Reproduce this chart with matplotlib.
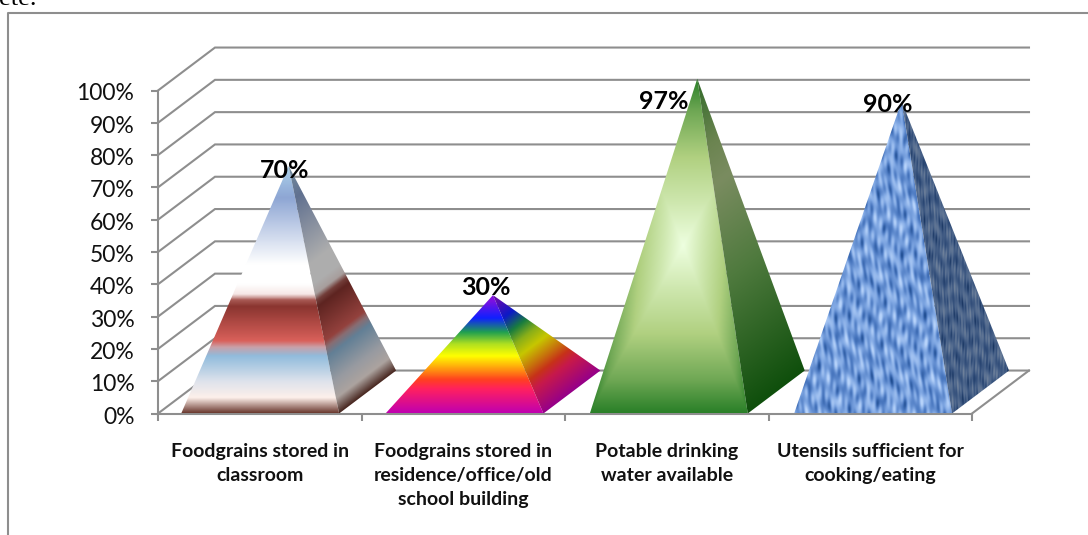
import numpy as np
import matplotlib
matplotlib.use("Agg")
import matplotlib.pyplot as plt
from matplotlib.colors import LinearSegmentedColormap
from matplotlib.lines import Line2D
from matplotlib.patches import Polygon
from matplotlib.transforms import Affine2D

categories = ["Foodgrains stored in\nclassroom",
              "Foodgrains stored in\nresidence/office/old\nschool building",
              "Potable drinking\nwater available",
              "Utensils sufficient for\ncooking/eating"]
values = [70, 30, 97, 90]
value_labels = ["70%", "30%", "97%", "90%"]
y_ticks = list(range(0, 101, 10))

W, H = 1088, 535
GRAY = "#8e8e8e"
DX, DY = 0.28, 13.3       # depth of the 3-D box in data units
HW = 0.388                # half base width of a pyramid
SLOPE = DY / DX

fig = plt.figure(figsize=(W / 100, H / 100), dpi=100, facecolor="white")
ax = fig.add_axes([158 / W, (H - 413.5) / H, 814 / W, 323 / H])
ax.set_xlim(0, 4)
ax.set_ylim(0, 100)
ax.set_facecolor("none")

# walls and gridlines
for y in y_ticks:
    ax.plot([0, DX, 4 + DX], [y, y + DY, y + DY], color=GRAY, lw=1.5,
            clip_on=False, zorder=1, solid_joinstyle="miter")
ax.plot([4, 4 + DX], [0, DY], color=GRAY, lw=1.5, clip_on=False, zorder=1)

for s in ("top", "right"):
    ax.spines[s].set_visible(False)
for s in ("left", "bottom"):
    ax.spines[s].set_color(GRAY)
    ax.spines[s].set_linewidth(1.5)

ax.set_yticks(y_ticks)
ax.set_yticklabels([f"{v}%" for v in y_ticks], fontfamily="Lato", fontsize=16.5, color="#111111")
ax.tick_params(axis="y", length=5, width=1.5, color=GRAY, pad=12)
for lab in ax.get_yticklabels():
    lab.set_transform(lab.get_transform() + Affine2D().translate(0, -1.5))
ax.set_xticks(range(5))
ax.set_xticklabels([])
ax.tick_params(axis="x", which="major", length=5, width=1.5, color=GRAY)
ax.set_xticks(np.arange(4) + 0.5, minor=True)
ax.set_xticklabels(categories, minor=True, fontfamily="Lato", fontweight="bold",
                   fontsize=14, linespacing=1.5, color="#111111")
ax.tick_params(axis="x", which="minor", length=0, pad=21)


def stops(seq):
    return LinearSegmentedColormap.from_list("s", [(t, c) for t, c in seq], N=512)


cm_a = stops([(0, "#6b3a30"), (.06, "#fdf0ea"), (.125, "#dfe3ec"), (.23, "#90bbdc"),
              (.265, "#c9a0a8"), (.29, "#d9605a"), (.43, "#8a3530"), (.455, "#a85a54"),
              (.48, "#f6e8e6"), (.52, "#ffffff"), (.6, "#ffffff"), (.87, "#8ea6d4"),
              (.98, "#a8cce8"), (1, "#a8cce8")])
cm_b = stops([(0, "#c000b0"), (.2, "#ff2060"), (.28, "#ff4020"), (.36, "#ff9010"),
              (.48, "#ffff00"), (.58, "#b0e020"), (.68, "#20a050"), (.8, "#1020ff"),
              (.95, "#8010e0"), (1, "#8010e0")])
cm_c = stops([(0, "#eeffe0"), (.25, "#cfe8b0"), (.53, "#b0d080"), (.8, "#70a855"), (1, "#2a8028")])
cm_c_side = stops([(0, "#0f4f0c"), (.4, "#4f7a3e"), (.68, "#7a8c60"), (.8, "#6b8450"), (1, "#2f6a28")])
cm_d = stops([(0, "#1d4b8f"), (.3, "#4a78c0"), (.62, "#7ea6e2"), (1, "#b8d4fb")])


def draw_face(poly, colours):
    xs = [p[0] for p in poly]
    ys = [p[1] for p in poly]
    ext = (min(xs), max(xs), min(ys), max(ys))
    X, Y = np.meshgrid(np.linspace(ext[0], ext[1], 500), np.linspace(ext[2], ext[3], 500))
    rgb = colours(X, Y)
    im = ax.imshow(rgb, extent=ext, origin="lower", aspect="auto", zorder=3,
                   interpolation="bilinear")
    im.set_clip_path(Polygon(poly, closed=True, transform=ax.transData))
    im.set_clip_box(fig.bbox)


def texture(X, Y, fine):
    px, py = X * 203.5, Y * 3.23
    fx = 0.95 if not fine else 2.1
    n = (np.sin(fx * px + 1.6 * np.sin(0.07 * py + 0.03 * px))
         * (0.7 + 0.5 * np.sin(0.27 * py + 0.41 * px))
         + 0.7 * np.sin(0.37 * fx * px + 0.13 * py + 1.2 * np.sin(0.043 * py - 0.13 * px))
         + 0.55 * np.sin(0.33 * py + 0.07 * px + 1.1 * np.sin(0.29 * px))
         + 0.35 * np.sin(0.12 * py - 0.23 * px))
    return np.clip(0.55 + n / 5.0, 0, 1)


for i, v in enumerate(values):
    c = 0.502 + 1.004 * i
    xl, xr = c - HW, c + HW
    ax_, ay_ = c + DX / 2, v + DY / 2
    front = [(xl, 0), (xr, 0), (ax_, ay_)]
    side = [(xr, 0), (xr + DX, DY), (ax_, ay_)]
    tf = lambda X, Y: np.clip(Y / ay_, 0, 1)
    ts = lambda X, Y: np.clip((Y - SLOPE * (X - xr)) / (v + SLOPE * HW), 0, 1)

    if i in (0, 1):
        cm = cm_a if i == 0 else cm_b
        k = 0.68 if i == 0 else 0.78
        draw_face(front, lambda X, Y: cm(tf(X, Y))[..., :3])
        draw_face(side, lambda X, Y: cm(ts(X, Y))[..., :3] * k)
    elif i == 2:
        def green(X, Y):
            vv = np.abs(Y - ay_ / 2) / (ay_ / 2)
            xc = c + (ax_ - c) * Y / ay_
            uu = np.abs(X - xc) / HW
            return cm_c(np.clip(np.maximum(uu, vv), 0, 1))[..., :3]
        draw_face(front, green)
        draw_face(side, lambda X, Y: cm_c_side(ts(X, Y))[..., :3])
    else:
        draw_face(front, lambda X, Y: cm_d(texture(X, Y, False))[..., :3])
        draw_face(side, lambda X, Y: cm_d(texture(X, Y, True))[..., :3] * 0.62)

ax.set_xlim(0, 4)
ax.set_ylim(0, 100)

# data labels, anchored on each apex
label_offsets = [(-4, -5), (-7, 8), (-34, -23), (-14, -3)]
for i, v in enumerate(values):
    c = 0.502 + 1.004 * i
    ax.annotate(value_labels[i], xy=(c + DX / 2, v + DY / 2),
                xytext=label_offsets[i], textcoords="offset pixels",
                ha="center", va="center", fontfamily="Lato", fontweight="bold",
                fontsize=18, color="black", zorder=6, annotation_clip=False)

# surrounding chart frame
fig.add_artist(Line2D([8 / W, 8 / W, 1], [0, (H - 13) / H, (H - 13) / H],
                      color=GRAY, lw=1.5, transform=fig.transFigure))
# tail of the running text above the chart
fig.text(-1 / W, (H - 5) / H, "ete.", fontfamily="Liberation Serif", fontsize=19, color="black",
         ha="left", va="baseline")

fig.savefig("out.png", dpi=100)
